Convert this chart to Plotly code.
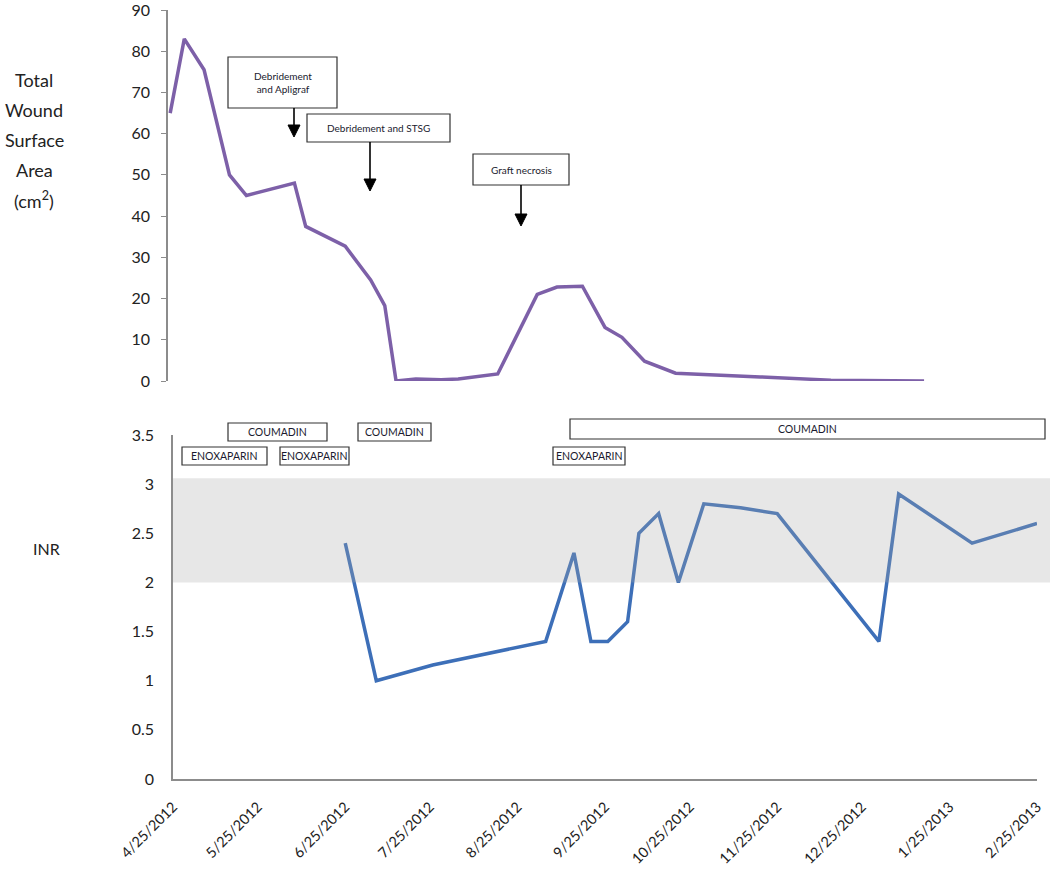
import plotly.graph_objects as go

# ---- Data ----
wound_dates = ["2012-04-24", "2012-04-29", "2012-05-06", "2012-05-15", "2012-05-21",
               "2012-06-07", "2012-06-11", "2012-06-25", "2012-07-04", "2012-07-09",
               "2012-07-13", "2012-07-20", "2012-07-29", "2012-08-04", "2012-08-18",
               "2012-09-01", "2012-09-08", "2012-09-17", "2012-09-25", "2012-10-01",
               "2012-10-09", "2012-10-20", "2012-11-19", "2012-12-14", "2013-01-16"]
wound_area = [65, 83, 75.5, 50, 45, 48, 37.5, 32.7, 24.5, 18.3,
              0, 0.5, 0.3, 0.5, 1.7, 21, 22.8, 23, 13, 10.6,
              4.8, 1.9, 1.0, 0.2, 0]

inr_dates = ["2012-06-25", "2012-07-06", "2012-07-26", "2012-09-04", "2012-09-14",
             "2012-09-20", "2012-09-26", "2012-10-03", "2012-10-07", "2012-10-14",
             "2012-10-21", "2012-10-30", "2012-11-12", "2012-11-25", "2012-12-31",
             "2013-01-07", "2013-02-02", "2013-02-25"]
inr_values = [2.4, 1.0, 1.16, 1.4, 2.3, 1.4, 1.4, 1.6, 2.5, 2.7,
              2.0, 2.8, 2.76, 2.7, 1.4, 2.9, 2.4, 2.6]

x_tick_dates = ["2012-04-25", "2012-05-25", "2012-06-25", "2012-07-25", "2012-08-25",
                "2012-09-25", "2012-10-25", "2012-11-25", "2012-12-25", "2013-01-25",
                "2013-02-25"]
x_tick_labels = ["4/25/2012", "5/25/2012", "6/25/2012", "7/25/2012", "8/25/2012",
                 "9/25/2012", "10/25/2012", "11/25/2012", "12/25/2012", "1/25/2013",
                 "2/25/2013"]

inr_target_low = 2.0
inr_target_high = 3.06

W, H = 1050, 870
def px(x):
    return min(1.0, max(0.0, x / W))
def py(y):
    return min(1.0, max(0.0, 1 - y / H))

FONT = "Lato, 'Open Sans', sans-serif"
AXIS_GRAY = "#8c8c8c"

fig = go.Figure()

fig.add_trace(go.Scatter(x=wound_dates, y=wound_area, mode="lines",
                         line=dict(color="#7d60a8", width=3.5),
                         xaxis="x2", yaxis="y2", showlegend=False))
fig.add_trace(go.Scatter(x=inr_dates, y=inr_values, mode="lines",
                         line=dict(color="#3d6fb8", width=3.5),
                         xaxis="x", yaxis="y", showlegend=False))

# target band drawn above the line, semi-transparent
fig.add_shape(type="rect", xref="paper", yref="y",
              x0=px(173), x1=px(1050), y0=inr_target_low, y1=inr_target_high,
              fillcolor="rgba(165,165,165,0.27)", line=dict(width=0), layer="above")

fig.update_layout(
    width=W, height=H,
    margin=dict(l=0, r=0, t=0, b=0, autoexpand=False),
    paper_bgcolor="white", plot_bgcolor="white",
    font=dict(family=FONT, color="#222222"),
    xaxis=dict(domain=[px(173), px(1037)], type="date",
               range=["2012-04-25", "2013-02-25"],
               tickvals=x_tick_dates, ticktext=x_tick_labels, tickangle=-45,
               tickfont=dict(size=14.5, color="#222222"),
               showgrid=False, zeroline=False, showline=True, automargin=False,
               ticklabeloverflow="allow", ticklabelstandoff=12,
               linecolor=AXIS_GRAY, linewidth=1.5, ticks="", anchor="y"),
    yaxis=dict(domain=[py(779), py(435)], range=[0, 3.5], dtick=0.5,
               tickfont=dict(size=16, color="#222222"),
               showgrid=False, zeroline=False, showline=True, automargin=False,
               ticklabeloverflow="allow",
               linecolor=AXIS_GRAY, linewidth=1.5, ticks="",
               ticklabelstandoff=14, anchor="x"),
    xaxis2=dict(domain=[px(168), px(1037)], type="date",
                range=["2012-04-23 05:30", "2013-02-25"], automargin=False,
                showticklabels=False, showgrid=False, zeroline=False,
                showline=False, ticks="", anchor="y2"),
    yaxis2=dict(domain=[py(381), py(10)], range=[0, 90], dtick=10,
                tickfont=dict(size=16, color="#222222"),
                showgrid=False, zeroline=False, showline=True, automargin=False,
                ticklabeloverflow="allow",
                linecolor=AXIS_GRAY, linewidth=1.5, ticks="outside", ticklen=5,
                tickcolor=AXIS_GRAY, ticklabelstandoff=8, anchor="x2"),
)

# y-axis titles (one annotation per line to reproduce the wide line spacing)
title_lines = ["Total", "Wound", "Surface", "Area", "(cm<sup>2</sup>)"]
for i, t in enumerate(title_lines):
    fig.add_annotation(text=t, x=px(34), y=py(80 + 30 * i), xref="paper", yref="paper",
                       xanchor="center", yanchor="middle",
                       showarrow=False, font=dict(size=18, color="#222222"))
fig.add_annotation(text="INR", x=px(46), y=py(548), xref="paper", yref="paper",
                   xanchor="center", yanchor="middle",
                   showarrow=False, font=dict(size=16, color="#222222"))

def box(x0, y0, x1, y1, text, size=10):
    fig.add_shape(type="rect", xref="paper", yref="paper",
                  x0=px(x0), x1=px(x1), y0=py(y1), y1=py(y0),
                  line=dict(color="#333333", width=1.2), fillcolor="white",
                  layer="above")
    fig.add_annotation(text=text, x=px((x0 + x1) / 2), y=py((y0 + y1) / 2),
                       xref="paper", yref="paper", showarrow=False,
                       xanchor="center", yanchor="middle",
                       font=dict(size=size, color="#1a1a2e"), align="center")

def arrow(x, y0, y1):
    # shaft
    fig.add_shape(type="line", xref="paper", yref="paper",
                  x0=px(x), x1=px(x), y0=py(y0), y1=py(y1 - 10),
                  line=dict(color="black", width=1.6), layer="above")
    # head
    path = "M {} {} L {} {} L {} {} Z".format(px(x - 6), py(y1 - 12), px(x + 6), py(y1 - 12),
                                               px(x), py(y1))
    fig.add_shape(type="path", xref="paper", yref="paper", path=path,
                  fillcolor="black", line=dict(color="black", width=1), layer="above")

# top chart event annotations
box(228, 57, 337, 108, "Debridement<br>and Apligraf")
arrow(294, 108, 137)
box(307, 114, 450, 142, "Debridement and STSG")
arrow(370, 142, 191)
box(473, 154, 569, 185, "Graft necrosis")
arrow(521, 185, 226)

# medication boxes
box(228, 423, 327, 441, "COUMADIN", 10.5)
box(358, 423, 431, 441, "COUMADIN", 10.5)
box(570, 419, 1045, 439, "COUMADIN", 10.5)
box(182, 447, 267, 465, "ENOXAPARIN", 10.5)
box(280, 447, 349, 465, "ENOXAPARIN", 10.5)
box(553, 447, 625, 465, "ENOXAPARIN", 10.5)

fig.write_html("out.html", config={"displayModeBar": False},
               post_script="document.body.style.margin='0';document.body.style.overflow='hidden';")
